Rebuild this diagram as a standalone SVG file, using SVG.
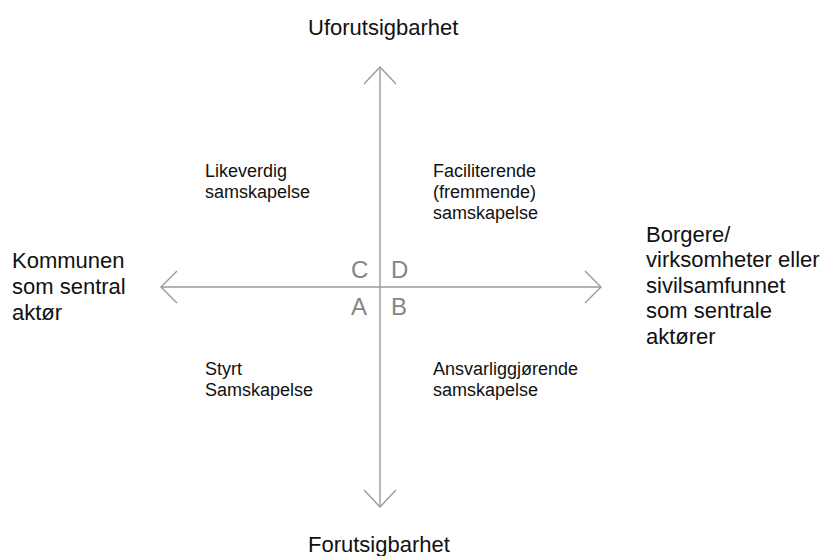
<svg xmlns="http://www.w3.org/2000/svg" width="827" height="556" viewBox="0 0 827 556">
<style>
text{font-family:"Liberation Sans",Arial,sans-serif;fill:#111}
.big{font-size:22px}
.q{font-size:18px}
.l{font-size:24px;fill:#858585}
.ax{stroke:#9a9a9a;stroke-width:1.4;fill:none}
</style>
<rect width="827" height="556" fill="#fff"/>
<g id="connectors">
<line class="ax" x1="380" y1="67" x2="380" y2="507"/>
<line class="ax" x1="161" y1="287" x2="601" y2="287"/>
<polyline class="ax" points="364,84 380,67 396,84"/>
<polyline class="ax" points="364,490 380,507 396,490"/>
<polyline class="ax" points="177,271 161,287 177,303"/>
<polyline class="ax" points="585,271 601,287 585,303"/>
</g>
<g id="top"><text class="big" x="308" y="35">Uforutsigbarhet</text></g>
<g id="bottom"><text class="big" x="308" y="552">Forutsigbarhet</text></g>
<g id="left"><text class="big" x="12" y="268">Kommunen<tspan x="12" dy="26">som sentral</tspan><tspan x="12" dy="25.5">aktør</tspan></text></g>
<g id="right"><text class="big" x="646" y="242">Borgere/<tspan x="646" dy="25.4">virksomheter eller</tspan><tspan x="646" dy="25.4">sivilsamfunnet</tspan><tspan x="646" dy="25.4">som sentrale</tspan><tspan x="646" dy="25.4">aktører</tspan></text></g>
<g id="qC"><text class="q" x="205" y="177">Likeverdig<tspan x="205" dy="21">samskapelse</tspan></text></g>
<g id="qD"><text class="q" x="433" y="177">Faciliterende<tspan x="433" dy="21">(fremmende)</tspan><tspan x="433" dy="21">samskapelse</tspan></text></g>
<g id="qA"><text class="q" x="205" y="375">Styrt<tspan x="205" dy="21">Samskapelse</tspan></text></g>
<g id="qB"><text class="q" x="433" y="375">Ansvarliggjørende<tspan x="433" dy="21">samskapelse</tspan></text></g>
<g id="letters">
<text class="l" x="351" y="278">C</text>
<text class="l" x="391" y="278">D</text>
<text class="l" x="351" y="315">A</text>
<text class="l" x="391" y="315">B</text>
</g>
</svg>
